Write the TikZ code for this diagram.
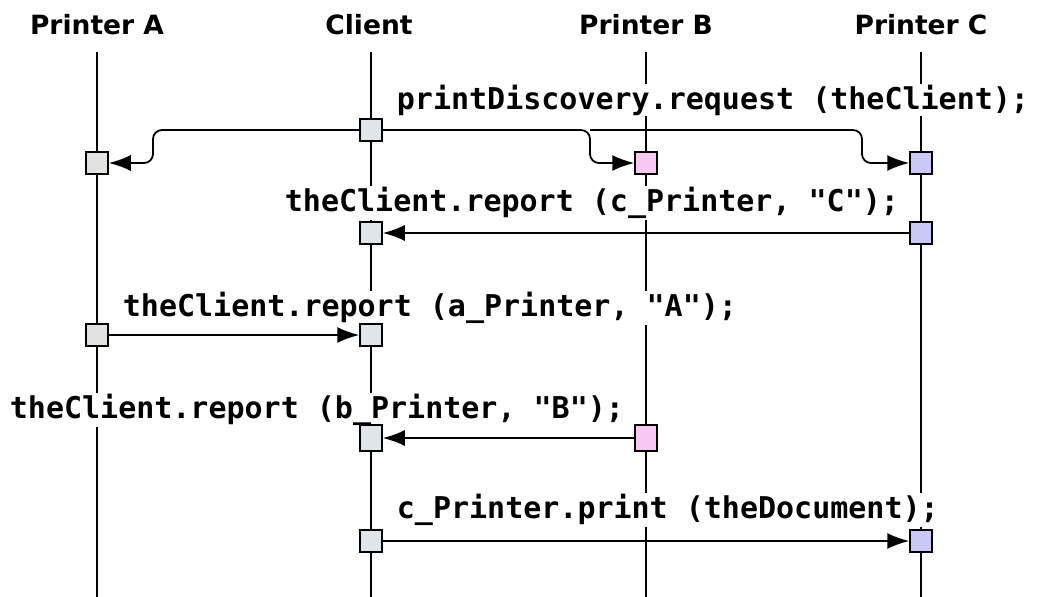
\documentclass[tikz,border=0pt]{standalone}
\usepackage{fontspec}
\usetikzlibrary{arrows.meta}
\newfontfamily\headfont{DejaVu Sans}
\newfontfamily\codefont{DejaVu Sans Mono}
\definecolor{clientcol}{RGB}{222,230,234}
\definecolor{pacol}{RGB}{228,226,222}
\definecolor{pbcol}{RGB}{246,200,242}
\definecolor{pccol}{RGB}{202,200,246}
\begin{document}
\begin{tikzpicture}[x=1pt, y=-1pt, line width=1.8pt,
	head/.style={font=\headfont\bfseries\fontsize{26.5}{30}\selectfont},
	code/.style={font=\codefont\bfseries\fontsize{30}{36}\selectfont, fill=white, inner sep=1pt, anchor=west},
	act/.style={draw, minimum width=22pt, minimum height=22pt, inner sep=0pt, line width=1.5pt},
	msg/.style={-{Latex[length=22pt,width=16pt]}}]
	\useasboundingbox (0,0) rectangle (1039,597);
	
	\node[head] (hA) at (97,25) {Printer A};
	\node[head] (hCl) at (369,25) {Client};
	\node[head] (hB) at (646,25) {Printer B};
	\node[head] (hC) at (921,25) {Printer C};
	
	\coordinate (topA) at (97,52);
	\coordinate (topCl) at (371,52);
	\coordinate (topB) at (646,52);
	\coordinate (topC) at (921,52);
	\coordinate (botA) at (97,597);
	\coordinate (botCl) at (371,597);
	\coordinate (botB) at (646,597);
	\coordinate (botC) at (921,597);
	
	\draw (topA) -- (botA);
	\draw (topCl) -- (botCl);
	\draw (topB) -- (botB);
	\draw (topC) -- (botC);
	
	\node[code] (t1) at (395,100) {printDiscovery.request (theClient);};
	\node[code] (t2) at (283,203) {theClient.report (c\_Printer, "C");};
	\node[code] (t3) at (121,308) {theClient.report (a\_Printer, "A");};
	\node[code] (t4) at (8,410) {theClient.report (b\_Printer, "B");};
	\node[code] (t5) at (395,510) {c\_Printer.print (theDocument);};
	
	\node[act, fill=clientcol] (c1) at (371,130) {};
	\node[act, fill=pacol] (a1) at (97,163) {};
	\node[act, fill=pbcol] (b1) at (646,163) {};
	\node[act, fill=pccol] (cc1) at (921,163) {};
	
	\node[act, fill=pccol] (cc2) at (921,233) {};
	\node[act, fill=clientcol] (c2) at (371,233) {};
	
	\node[act, fill=pacol] (a3) at (97,335) {};
	\node[act, fill=clientcol] (c3) at (371,335) {};
	
	\node[act, fill=pbcol, minimum height=26pt] (b4) at (646,438) {};
	\node[act, fill=clientcol, minimum height=26pt] (c4) at (371,438) {};
	
	\node[act, fill=clientcol] (c5) at (371,541) {};
	\node[act, fill=pccol] (cc5) at (921,541) {};
	
	\draw[msg, rounded corners=9pt] (c1.west) -- (153,130) -- (153,163) -- (a1.east);
	\draw[msg, rounded corners=9pt] (c1.east) -- (590,130) -- (590,163) -- (b1.west);
	\draw[msg, rounded corners=9pt] (590,130) -- (862,130) -- (862,163) -- (cc1.west);
	\draw[msg] (cc2) -- (c2);
	\draw[msg] (a3) -- (c3);
	\draw[msg] (b4) -- (c4);
	\draw[msg] (c5) -- (cc5);
	
\end{tikzpicture}
\end{document}
